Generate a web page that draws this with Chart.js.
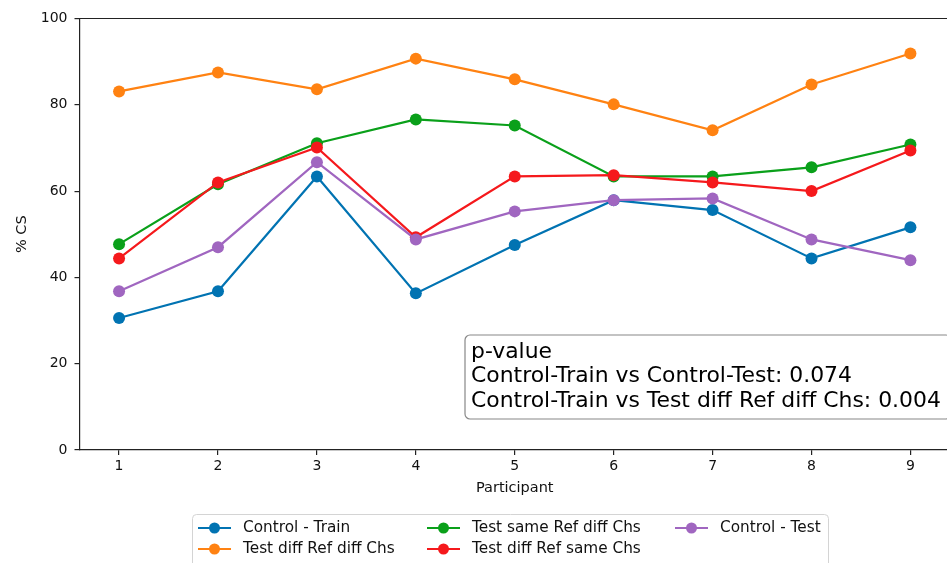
<!DOCTYPE html>
<html>
<head>
<meta charset="utf-8">
<script src="https://cdn.jsdelivr.net/npm/chart.js@4.4.0/dist/chart.umd.min.js"></script>
<style>
html, body { margin: 0; padding: 0; background: #fff; overflow: hidden; }
canvas { display: block; }
</style>
</head>
<body>
<canvas id="cs-chart" width="956" height="563"></canvas>
<script>
// values
var participants = [1, 2, 3, 4, 5, 6, 7, 8, 9];
var yTicks = [0, 20, 40, 60, 80, 100];

var controlTrain    = [30.6, 36.8, 63.4, 36.3, 47.5, 57.9, 55.6, 44.4, 51.6];
var testDiffRefDiff = [83.1, 87.5, 83.6, 90.7, 85.9, 80.1, 74.1, 84.7, 91.9];
var testSameRefDiff = [47.7, 61.6, 71.1, 76.6, 75.2, 63.4, 63.4, 65.5, 70.8];
var testDiffRefSame = [44.4, 62.0, 70.1, 49.3, 63.4, 63.7, 62.0, 60.0, 69.4];
var controlTest     = [36.8, 47.0, 66.7, 48.8, 55.3, 57.9, 58.3, 48.8, 44.0];

var seriesNames = ['Control - Train', 'Test diff Ref diff Chs', 'Test same Ref diff Chs', 'Test diff Ref same Chs', 'Control - Test'];
var seriesColors = ['#0173b2', '#ff8212', '#0aa01a', '#f5191c', '#a066c0'];
var seriesValues = [controlTrain, testDiffRefDiff, testSameRefDiff, testDiffRefSame, controlTest];

var pvalueLines = ['p-value', 'Control-Train vs Control-Test: 0.074', 'Control-Train vs Test diff Ref diff Chs: 0.004'];

Chart.defaults.font.family = "'DejaVu Sans', sans-serif";
Chart.defaults.color = '#111';

var datasets = seriesNames.map(function(name, i) {
  return {
    label: name,
    data: participants.map(function(p, j) { return {x: p, y: seriesValues[i][j]}; }),
    borderColor: seriesColors[i],
    backgroundColor: seriesColors[i],
    borderWidth: 2.2,
    pointRadius: 6,
    pointHoverRadius: 6,
    pointBorderWidth: 0,
    tension: 0,
    order: seriesNames.length - i
  };
});

// top spine, p-value box and the 3-column legend
var extras = {
  id: 'extras',
  afterDraw: function(chart) {
    var ctx = chart.ctx;
    var area = chart.chartArea;
    ctx.save();
    ctx.strokeStyle = '#222';
    ctx.lineWidth = 1.2;
    ctx.beginPath();
    ctx.moveTo(area.left, area.top);
    ctx.lineTo(area.right, area.top);
    ctx.stroke();

    // p-value box
    ctx.fillStyle = 'rgba(255,255,255,0.85)';
    ctx.strokeStyle = '#888';
    ctx.lineWidth = 1.2;
    ctx.beginPath();
    ctx.roundRect(465, 335, 486, 84, 5);
    ctx.fill();
    ctx.stroke();
    ctx.fillStyle = '#000';
    ctx.font = "21.9px 'DejaVu Sans'";
    ctx.textBaseline = 'middle';
    ctx.textAlign = 'left';
    pvalueLines.forEach(function(t, i) {
      ctx.fillText(t, 471, 352 + i * 24.5);
    });

    // legend
    ctx.fillStyle = '#fff';
    ctx.strokeStyle = '#d4d4d4';
    ctx.lineWidth = 1;
    ctx.beginPath();
    ctx.roundRect(192.5, 514.5, 636, 60, 4);
    ctx.fill();
    ctx.stroke();
    var colX = [198, 427, 675];
    var rowY = [528, 549];
    ctx.font = "15.3px 'DejaVu Sans'";
    seriesNames.forEach(function(name, i) {
      var x = colX[Math.floor(i / 2)];
      var y = rowY[i % 2];
      ctx.strokeStyle = seriesColors[i];
      ctx.lineWidth = 2.2;
      ctx.beginPath();
      ctx.moveTo(x, y);
      ctx.lineTo(x + 33, y);
      ctx.stroke();
      ctx.fillStyle = seriesColors[i];
      ctx.beginPath();
      ctx.arc(x + 16.5, y, 5.5, 0, Math.PI * 2);
      ctx.fill();
      ctx.fillStyle = '#111';
      ctx.fillText(name, x + 45, y);
    });
    ctx.restore();
  }
};

var ctx = document.getElementById('cs-chart').getContext('2d');
var csChart = new Chart(ctx, {
  type: 'line',
  data: { datasets: datasets },
  options: {
    responsive: false,
    animation: false,
    devicePixelRatio: 1,
    layout: { padding: { left: 0, top: 18.5, right: 2.5, bottom: 63 } },
    plugins: { legend: { display: false }, tooltip: { enabled: false } },
    scales: {
      x: {
        type: 'linear',
        min: 0.6,
        max: 9.4,
        afterBuildTicks: function(s) { s.ticks = participants.map(function(v) { return {value: v}; }); },
        afterFit: function(s) { s.height = 50; },
        grid: { drawOnChartArea: false, drawTicks: true, tickLength: 5, color: '#222', lineWidth: 1.2 },
        border: { display: true, color: '#222', width: 1.2 },
        ticks: { font: { size: 14 }, color: '#111', padding: 3, maxRotation: 0 },
        title: { display: true, text: 'Participant', font: { size: 14.5 }, color: '#111', padding: { top: 0, bottom: 3.5 } }
      },
      y: {
        min: 0,
        max: 100,
        afterBuildTicks: function(s) { s.ticks = yTicks.map(function(v) { return {value: v}; }); },
        afterFit: function(s) { s.width = 79.5; },
        grid: { drawOnChartArea: false, drawTicks: true, tickLength: 5, color: '#222', lineWidth: 1.2 },
        border: { display: true, color: '#222', width: 1.2 },
        ticks: { font: { size: 14 }, color: '#111', padding: 7 },
        title: { display: true, text: '% CS', font: { size: 14.5 }, color: '#111', padding: { top: 13.5, bottom: 0 } }
      }
    }
  },
  plugins: [extras]
});
</script>
</body>
</html>
